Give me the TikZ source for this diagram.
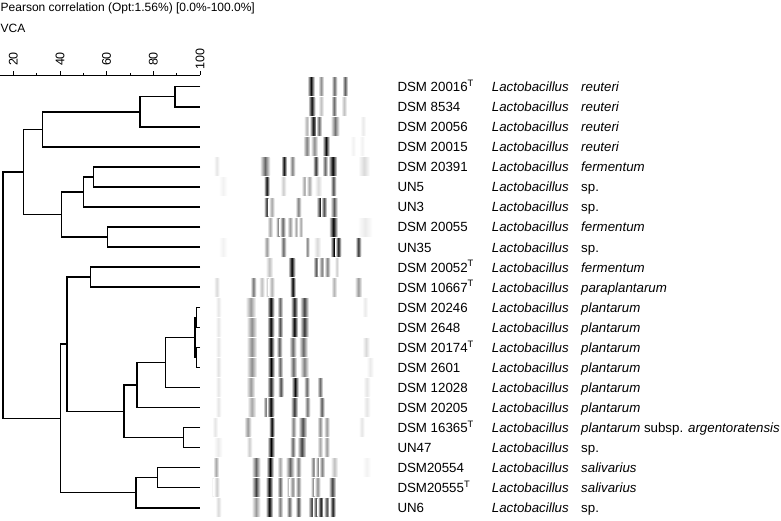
\documentclass[tikz,border=0pt]{standalone}
\usepackage{fontspec}
\setmainfont{Liberation Sans}
\usetikzlibrary{calc}
\usetikzlibrary{positioning}

\tikzset{
  branch/.style={line width=1.5pt},
  ruler/.style={line width=0.8pt},
  ticklabel/.style={rotate=90, inner sep=0pt, font=\fontsize{12.5}{14}\selectfont},
  headline/.style={anchor=base west, inner sep=0pt, font=\fontsize{12}{14}\selectfont},
  strain/.style={anchor=base west, inner sep=0pt, font=\fontsize{13.3}{15}\selectfont},
  genus/.style={strain, font=\fontsize{13.3}{15}\selectfont\itshape},
  band/.style={left color=white, right color=white, middle color=black!#1},
}

% one clade: name, similarity, upper child, lower child
\newcommand{\clade}[4]{%
  \coordinate (#1m) at ($(#3)!.5!(#4)$);
  \coordinate (#1) at (#1m -| #2,0);
  \draw[branch] (#3) -| (#1) |- (#4);
}

\begin{document}
\begin{tikzpicture}[x=1pt, y=-1pt]
\useasboundingbox (0,0) rectangle (781,520);

\node[headline] (title) at (0.5,11.7) {Pearson correlation (Opt:1.56\%) [0.0\%-100.0\%]};
\node[headline] (vca) at (0.5,32.7) {VCA};

% dendrogram, x in percent similarity
\begin{scope}[x=2.333pt, xshift=-33.3pt]
\draw[ruler] (14.3,75) -- (100,75);
\foreach \v in {20,40,...,100} {
  \draw[ruler] (\v,75) -- (\v,71);
  \node[ticklabel] (tick\v) at (\v,59) {\v};
}
\foreach \v in {30,50,70,90}
  \draw[ruler] (\v,75) -- (\v,73);

\foreach \i in {1,...,22}
  \coordinate (s\i) at (100, {86.7+20.05*(\i-1)});

\clade{reuA}{89.3}{s1}{s2}
\clade{reuB}{74.3}{reuA}{s3}
\clade{reuC}{32.4}{reuB}{s4}
\clade{ferA}{54.3}{s5}{s6}
\clade{ferB}{50}{ferA}{s7}
\clade{ferC}{60.3}{s8}{s9}
\clade{ferD}{40.7}{ferB}{ferC}
\clade{upper}{24.3}{reuC}{ferD}
\clade{parA}{53.1}{s10}{s11}
\clade{plaA}{98.6}{s12}{s13}
\clade{plaB}{98.6}{s14}{s15}
\clade{plaC}{97.9}{plaA}{plaB}
\clade{plaD}{85.3}{plaC}{s16}
\clade{plaE}{72.9}{plaD}{s17}
\clade{argA}{92.9}{s18}{s19}
\clade{plaF}{67.4}{plaE}{argA}
\clade{parB}{42.9}{parA}{plaF}
\clade{salA}{81.7}{s20}{s21}
\clade{salB}{72.6}{salA}{s22}
\clade{lower}{40.3}{parB}{salB}
\clade{root}{15.6}{upper}{lower}
\end{scope}

% fingerprint lanes: position/half width/darkness
\foreach \r/\bands in {
  1/{311/2.5/95, 321/2/45, 334.3/2/60, 345/2/65},
  2/{311.7/2.5/95, 321/2/25, 334/2/60, 344/2/25},
  3/{306.7/2/30, 313.3/2.5/95, 319/2/60, 335/3/55, 363/2/8},
  4/{306.7/2.5/50, 314.3/2.5/45, 326/2.5/95, 353/2/5, 362/2/5},
  5/{216.7/2/10, 265/3.5/60, 284/2/95, 292.3/2/50, 315.7/2/80, 325/2/60, 332.7/3/100, 364/4/15},
  6/{223/3/5, 266.7/2/95, 283.3/2/20, 304.3/2/35, 309.3/2/35, 318.3/2.5/15, 333.3/2/70},
  7/{266.7/2/80, 271.7/2/35, 298.3/2/50, 320/2.5/85, 324/2/70, 334/2.5/65},
  8/{270/2/35, 279.3/2.5/70, 282.7/2/60, 290/2/40, 296/1.5/35, 300.7/1.5/35, 333.3/3/100, 365/5/8},
  9/{223/3/5, 266.7/2/40, 283.3/2/60, 307.3/1.5/50, 317.3/2.5/15, 334/2.5/100, 338.3/2/90, 358.3/2/80},
  10/{269.3/2.5/25, 291.7/2.5/100, 316/2/65, 321.7/2/50, 327.3/2/50, 336.7/1.5/20},
  11/{216.7/2/15, 253.3/2/55, 261.7/2/25, 268.3/2/30, 271.7/2/30, 292.7/2/100, 334/2/30, 358.3/2.5/40},
  12/{218.3/2/10, 250.7/3.5/40, 270.7/2.5/100, 280/2/60, 294.3/2.5/90, 304.3/3/75, 365/2/8},
  13/{218.3/2/10, 251.7/3.5/45, 270.7/2.5/100, 280/2/70, 294.3/2.5/100, 304.3/3/80},
  14/{218.3/2/10, 251.7/3.5/45, 270.7/2.5/100, 279.3/2/65, 292.7/2.5/60, 303.3/3/60, 366/2.5/15},
  15/{218.3/2/12, 251.7/3.5/45, 271/2.5/100, 280/2/60, 293.3/2.5/60, 304.3/3/50, 370/2.5/8},
  16/{218.3/2/10, 250.7/3/40, 270.7/2.5/90, 280.7/2/70, 295/2.5/95, 306.7/2/60, 320/2/60, 366.7/2.5/10},
  17/{218.3/2/10, 251.7/3/35, 266/2/60, 270.7/2.5/100, 294.3/2.5/80, 307.3/2/55, 321.7/2/65, 366.7/2.5/10},
  18/{215/2/10, 247.7/2.5/40, 271.7/2/100, 293.3/2/50, 302.7/3/70, 320/2/45, 326.7/2/40, 361.7/2/10},
  19/{218/3/8, 249.3/2/20, 271/2.5/100, 292.7/2/60, 301.7/3/75, 320/2/35, 326.7/2/40},
  20/{216/2/35, 256/3/60, 270/2.5/100, 280/2/35, 290/3/60, 298.3/2/50, 313.3/2/50, 318.3/2/50, 322/2/50, 334.3/2.5/25, 366.7/3/5},
  21/{213.3/1.5/10, 216.7/2/20, 256/3/75, 269.3/2.5/100, 280/2/60, 289.3/2/45, 292.5/2/45, 298.3/2/50, 313.5/2/50, 317.5/2/45, 332.3/2.5/75},
  22/{218.3/2/15, 256/3/40, 269.3/2.5/100, 280/2/50, 289.3/2/60, 298.3/2/70, 311.7/2.5/75, 316/2/70, 320.7/2/90, 326.7/2/70, 332.7/2/90}} {
  \pgfmathsetmacro\ly{86.7+20.05*(\r-1)}
  \foreach \x/\w/\d in \bands
    \shade[band=\d] (\x-1.5*\w,\ly-9) rectangle (\x+1.5*\w,\ly+9);
}

% strain labels
\foreach \i/\strain/\species in {
  1/{DSM 20016\textsuperscript{T}}/\textit{reuteri},
  2/{DSM 8534}/\textit{reuteri},
  3/{DSM 20056}/\textit{reuteri},
  4/{DSM 20015}/\textit{reuteri},
  5/{DSM 20391}/\textit{fermentum},
  6/UN5/sp.,
  7/UN3/sp.,
  8/{DSM 20055}/\textit{fermentum},
  9/UN35/sp.,
  10/{DSM 20052\textsuperscript{T}}/\textit{fermentum},
  11/{DSM 10667\textsuperscript{T}}/\textit{paraplantarum},
  12/{DSM 20246}/\textit{plantarum},
  13/{DSM 2648}/\textit{plantarum},
  14/{DSM 20174\textsuperscript{T}}/\textit{plantarum},
  15/{DSM 2601}/\textit{plantarum},
  16/{DSM 12028}/\textit{plantarum},
  17/{DSM 20205}/\textit{plantarum},
  18/{DSM 16365\textsuperscript{T}}/{\textit{plantarum} subsp. \textit{argentoratensis}},
  19/UN47/sp.,
  20/DSM20554/\textit{salivarius},
  21/{DSM20555\textsuperscript{T}}/\textit{salivarius},
  22/UN6/sp.} {
  \pgfmathsetmacro\ly{86.7+20.05*(\i-1)+4.9}
  \node[strain] (st\i) at (397.3,\ly) {\strain};
  \node[genus] (ge\i) at (491.7,\ly) {Lactobacillus};
  \node[strain] (sp\i) at (581,\ly) {\species};
}
\end{tikzpicture}
\end{document}
